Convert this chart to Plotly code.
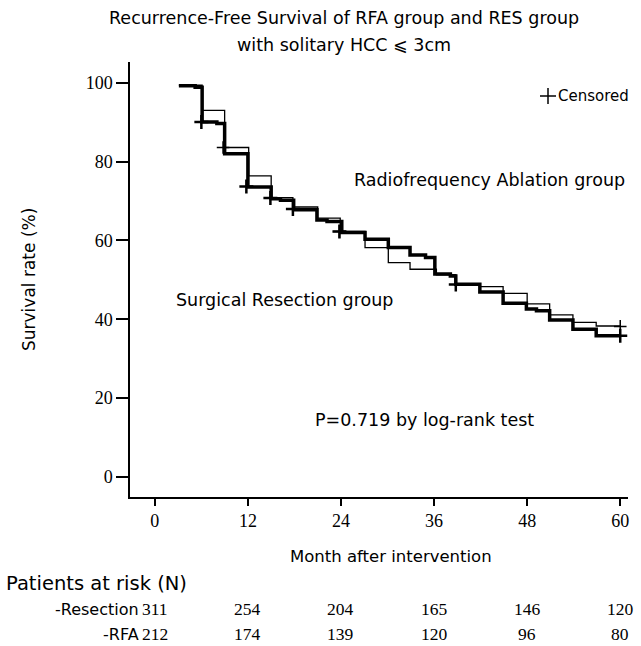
import plotly.graph_objects as go

# ---- data ----
# Thick curve (Radiofrequency Ablation group)
rfa_t = [3.1, 5.2, 6.1, 8.0, 9.0, 12.0, 15.0, 16.2, 17.9, 20.9, 22.2, 24.1, 27.1, 30.1, 32.9, 34.9, 36.1, 38.1, 38.8, 41.9, 44.9, 47.9, 49.2, 50.9, 53.9, 56.9, 60.0]
rfa_s = [99.3, 98.9, 90.1, 89.7, 82.0, 73.6, 70.6, 70.2, 67.8, 65.2, 64.8, 62.0, 60.3, 58.2, 56.3, 55.7, 51.5, 51.0, 48.9, 46.9, 44.1, 42.6, 42.2, 39.8, 37.5, 35.8, 35.8]
# Thin curve (Surgical Resection group)
res_t = [3.1, 6.1, 9.0, 12.1, 15.0, 17.8, 21.0, 23.9, 27.1, 30.1, 32.9, 36.3, 38.8, 41.9, 44.9, 48.0, 50.9, 53.9, 56.9, 60.0]
res_s = [99.4, 93.0, 83.6, 76.4, 70.9, 68.5, 65.7, 62.3, 58.2, 54.4, 52.7, 51.3, 48.9, 48.3, 46.6, 43.9, 41.1, 39.2, 38.3, 38.3]

# censored marks
rfa_cens_t = [6.0, 11.8, 14.9, 17.8, 23.8, 38.8, 60.0]
rfa_cens_s = [90.1, 73.7, 70.8, 68.0, 62.3, 48.8, 35.8]
res_cens_t = [8.8, 23.8, 60.0]
res_cens_s = [83.6, 62.3, 38.2]

tick_months = [0, 12, 24, 36, 48, 60]
y_ticks = [0, 20, 40, 60, 80, 100]
risk_resection = [311, 254, 204, 165, 146, 120]
risk_rfa = [212, 174, 139, 120, 96, 80]

SANS = "DejaVu Sans"
SERIF = "Liberation Serif"

fig = go.Figure()
fig.add_trace(go.Scatter(x=res_t, y=res_s, mode="lines", line=dict(shape="hv", color="black", width=1.3),
                         showlegend=False, hoverinfo="skip"))
fig.add_trace(go.Scatter(x=rfa_t, y=rfa_s, mode="lines", line=dict(shape="hv", color="black", width=3.5),
                         showlegend=False, hoverinfo="skip"))
fig.add_trace(go.Scatter(x=res_cens_t, y=res_cens_s, mode="markers",
                         marker=dict(symbol="cross-thin", size=9, line=dict(color="black", width=1.5)),
                         showlegend=False, hoverinfo="skip"))
fig.add_trace(go.Scatter(x=rfa_cens_t, y=rfa_cens_s, mode="markers",
                         marker=dict(symbol="cross-thin", size=10, line=dict(color="black", width=2.5)),
                         showlegend=False, hoverinfo="skip"))

L, R, T, B = 130, 13, 62, 149
W, H = 641, 646
pw, ph = W - L - R, H - T - B


def px(xpix):
    return (xpix - L) / pw


def py(ypix):
    return (H - B - ypix) / ph


def label(text, x, y, anchor="left", size=17.5, family=SANS, angle=0):
    return dict(text=text, x=px(x), y=py(y), xref="paper", yref="paper", xanchor=anchor, yanchor="middle",
                showarrow=False, textangle=angle, font=dict(family=family, size=size, color="black"))


ann = [
    label("Recurrence-Free Survival of RFA group and RES group", 344, 18, "center", 17.5),
    label("with solitary HCC \u2a7d 3cm", 344, 45, "center", 17.5),
    label("Radiofrequency Ablation group", 352, 180),
    label("Surgical Resection group", 174, 300),
    label("P=0.719 by log-rank test", 313, 420),
    label("Survival rate (%)", 29, 280, "center", 17, angle=-90),
    label("Month after intervention", 391, 556, "center", 16.5),
    label("Patients at risk (N)", 4, 583, "left", 19.5),
    label("-Resection", 141, 609, "right", 16),
    label("-RFA", 141, 634, "right", 16),
    label("Censored", 556, 96, "left", 15),
]
for m, n in zip(tick_months, risk_resection):
    ann.append(dict(text=str(n), x=m, y=py(609), xref="x", yref="paper", xanchor="center", yanchor="middle",
                    showarrow=False, font=dict(family=SERIF, size=17.5, color="black")))
for m, n in zip(tick_months, risk_rfa):
    ann.append(dict(text=str(n), x=m, y=py(634), xref="x", yref="paper", xanchor="center", yanchor="middle",
                    showarrow=False, font=dict(family=SERIF, size=17.5, color="black")))

# "+" glyph of the censored key (legend decoration)
cx, cy, hs = 548, 96, 8
shapes = [
    dict(type="line", xref="paper", yref="paper", x0=px(cx - hs), x1=px(cx + hs), y0=py(cy), y1=py(cy),
         line=dict(color="black", width=1.5)),
    dict(type="line", xref="paper", yref="paper", x0=px(cx), x1=px(cx), y0=py(cy - hs), y1=py(cy + hs),
         line=dict(color="black", width=1.5)),
]

fig.update_layout(
    width=W, height=H,
    margin=dict(l=L, r=R, t=T, b=B),
    paper_bgcolor="white", plot_bgcolor="white",
    annotations=ann, shapes=shapes, showlegend=False,
    xaxis=dict(range=[-3.2, 61.0], tickvals=tick_months, ticks="outside", ticklen=7, tickwidth=1.5,
               tickcolor="black", showline=True, linecolor="black", linewidth=1.5, showgrid=False,
               zeroline=False, tickfont=dict(family=SERIF, size=18, color="black")),
    yaxis=dict(range=[-5.1, 105.3], tickvals=y_ticks, ticks="outside", ticklen=12, tickwidth=1.5,
               tickcolor="black", showline=True, linecolor="black", linewidth=1.5, showgrid=False,
               zeroline=False, tickfont=dict(family=SERIF, size=18, color="black")),
)

fig.write_html("out.html")
